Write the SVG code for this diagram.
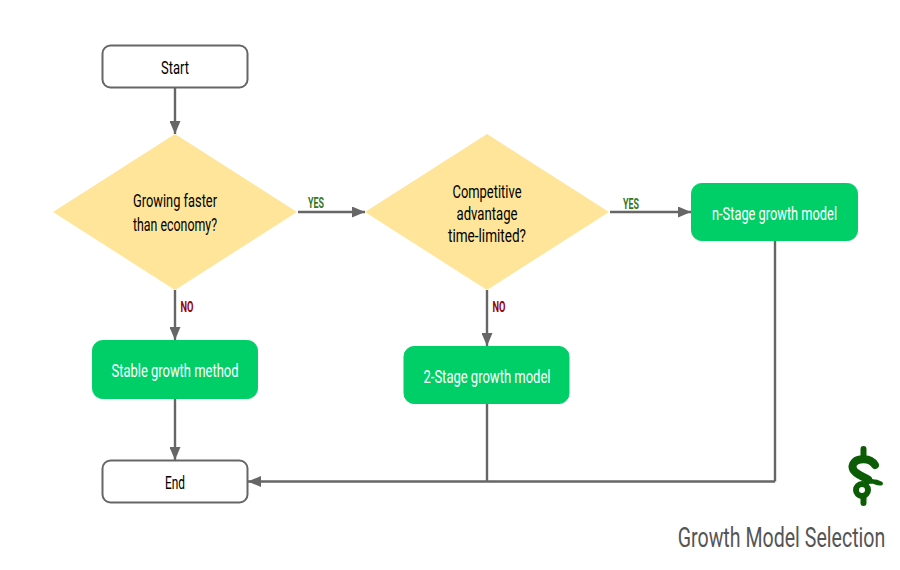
<svg xmlns="http://www.w3.org/2000/svg" width="900" height="570" viewBox="0 0 900 570">
<style>
text{font-family:"Roboto","Liberation Sans",sans-serif;text-anchor:middle}
.t{font-size:18px;fill:#000}
.w{font-size:18px;fill:#fff}
.term{fill:#fff;stroke:#666;stroke-width:2}
.proc{fill:#00cf68;stroke:#00cf68;stroke-width:1}
.dec{fill:#ffe599}
.c{fill:none;stroke:#666;stroke-width:2.400}
.y{font-size:15px;font-weight:bold;fill:#38761d}
.n{font-size:15px;font-weight:bold;fill:#980000}
.d{fill:none;stroke:#0b5c05;stroke-linecap:round;stroke-linejoin:round}
</style>
<defs><marker id="a" markerUnits="userSpaceOnUse" markerWidth="14" markerHeight="11" refX="13" refY="5.500" orient="auto"><path d="M0 0L13 5.500L0 11Z" fill="#666"/></marker></defs>
<g id="connectors">
<path class="c" marker-end="url(#a)" d="M175 88V134"/>
<path class="c" marker-end="url(#a)" d="M298 212H365"/>
<path class="c" marker-end="url(#a)" d="M610 212H691"/>
<path class="c" marker-end="url(#a)" d="M175 290V340"/>
<path class="c" marker-end="url(#a)" d="M487 290V346"/>
<path class="c" marker-end="url(#a)" d="M175 399V460"/>
<path class="c" d="M487 404V481"/>
<path class="c" d="M775 241V481.500"/>
<path class="c" marker-end="url(#a)" d="M775 481.500H248"/>
</g>
<g id="start"><rect class="term" x="102.500" y="45.500" width="145" height="42" rx="8"/><text class="t" x="175" y="74" textLength="28" lengthAdjust="spacingAndGlyphs">Start</text></g>
<g id="d1"><path class="dec" d="M175 134L297 212L175 290L53 212Z"/><text class="t" x="175" y="207" textLength="84" lengthAdjust="spacingAndGlyphs">Growing faster</text><text class="t" x="175" y="231" textLength="84" lengthAdjust="spacingAndGlyphs">than economy?</text></g>
<g id="d2"><path class="dec" d="M487 134L609 212L487 290L365 212Z"/><text class="t" x="487" y="197.500" textLength="69" lengthAdjust="spacingAndGlyphs">Competitive</text><text class="t" x="487" y="219.500" textLength="61" lengthAdjust="spacingAndGlyphs">advantage</text><text class="t" x="487" y="241.500" textLength="78" lengthAdjust="spacingAndGlyphs">time-limited?</text></g>
<g id="n-stage"><rect class="proc" x="691.500" y="183.500" width="166" height="57" rx="10"/><text class="w" x="774.500" y="219.500" textLength="125" lengthAdjust="spacingAndGlyphs">n-Stage growth model</text></g>
<g id="stable"><rect class="proc" x="92.500" y="340.500" width="165" height="58" rx="10"/><text class="w" x="175" y="376.500" textLength="127" lengthAdjust="spacingAndGlyphs">Stable growth method</text></g>
<g id="two-stage"><rect class="proc" x="404" y="346.500" width="165" height="57" rx="10"/><text class="w" x="487" y="382.500" textLength="127" lengthAdjust="spacingAndGlyphs">2-Stage growth model</text></g>
<g id="end"><rect class="term" x="102.500" y="460.500" width="145" height="42" rx="8"/><text class="t" x="175" y="489" textLength="20" lengthAdjust="spacingAndGlyphs">End</text></g>
<text class="y" x="316" y="207.500" textLength="16" lengthAdjust="spacingAndGlyphs">YES</text>
<text class="y" x="631" y="209" textLength="16" lengthAdjust="spacingAndGlyphs">YES</text>
<text class="n" x="187" y="311.500" textLength="13" lengthAdjust="spacingAndGlyphs">NO</text>
<text class="n" x="499" y="311.500" textLength="13" lengthAdjust="spacingAndGlyphs">NO</text>
<g id="dollar">
<path class="d" stroke-width="6" d="M863.500 449V458M863.500 497V503"/>
<path class="d" stroke-width="8" d="M875 465C872 460 866 458.500 860 459.500C854 460.500 851.500 465 853 469C855 474 862 476 868 479.500"/>
<path class="d" stroke-width="4" d="M866 478C871 481 876 484 881 483.500C876 481 870 481 866 483"/>
<circle class="d" stroke-width="6" cx="862" cy="490" r="6"/>
</g>
<text transform="translate(781.500 547) scale(.7 1)" font-size="28" fill="#555">Growth Model Selection</text>
</svg>
